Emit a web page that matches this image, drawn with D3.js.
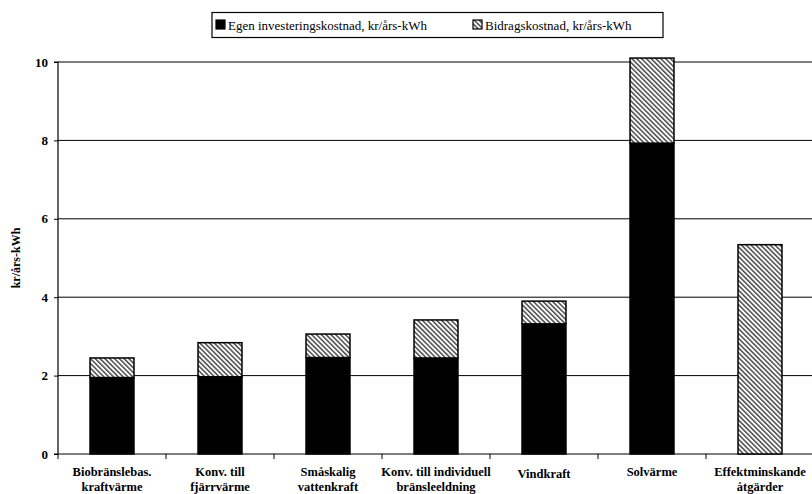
<!DOCTYPE html>
<html>
<head>
<meta charset="utf-8">
<script src="https://cdn.jsdelivr.net/npm/d3@7"></script>
<style>
  html, body { margin: 0; padding: 0; background: #fff; }
  svg { display: block; }
  svg text { font-family: "Liberation Serif", "DejaVu Serif", serif !important; }
</style>
</head>
<body>
<svg id="chart" width="812" height="494"></svg>
<script>
// Kostnad per årskilowattimme för olika åtgärder
const categories = [
  ["Biobränslebas.", "kraftvärme"],
  ["Konv. till", "fjärrvärme"],
  ["Småskalig", "vattenkraft"],
  ["Konv. till individuell", "bränsleeldning"],
  ["Vindkraft"],
  ["Solvärme"],
  ["Effektminskande", "åtgärder"]
];
const egenInvestering = [1.95, 1.97, 2.46, 2.45, 3.32, 7.93, 0];
const bidragskostnad  = [0.50, 0.87, 0.60, 0.97, 0.58, 2.17, 5.34];
const yTicks = [0, 2, 4, 6, 8, 10];
const seriesNames = ["Egen investeringskostnad, kr/års-kWh", "Bidragskostnad, kr/års-kWh"];
const yTitle = "kr/års-kWh";

const svg = d3.select("#chart");
const W = 812, H = 494;
const plotL = 58, plotR = 814, plotT = 62, plotB = 454;
const serif = "'Liberation Serif', 'DejaVu Serif', serif";

// Diagonal hatch for bidragskostnad
const defs = svg.append("defs");
const pat = defs.append("pattern")
  .attr("id", "hatch")
  .attr("patternUnits", "userSpaceOnUse")
  .attr("width", 3.4).attr("height", 3.4)
  .attr("patternTransform", "rotate(-45)");
pat.append("rect").attr("width", 3.4).attr("height", 3.4).attr("fill", "#ffffff");
pat.append("rect").attr("x", 0).attr("y", 0).attr("width", 1.5).attr("height", 3.4).attr("fill", "#4a4a4a");

const keys = categories.map((c, i) => i);
const x = d3.scaleBand().domain(keys).range([plotL, plotR]).paddingInner(0.593).paddingOuter(0.2965);
const y = d3.scaleLinear().domain([0, 10]).range([plotB, plotT]);

// Horizontal gridlines
svg.append("g").selectAll("line").data(yTicks.filter(t => t > 0)).join("line")
  .attr("x1", plotL).attr("x2", W)
  .attr("y1", d => y(d)).attr("y2", d => y(d))
  .attr("stroke", "#000").attr("stroke-width", 1);

// Y axis
const yAxis = d3.axisLeft(y).tickValues(yTicks).tickSize(4).tickPadding(6).tickFormat(d3.format("d"));
const gy = svg.append("g").attr("transform", `translate(${plotL},0)`).call(yAxis)
  .attr("font-family", serif);
gy.select(".domain").attr("stroke", "#000").attr("stroke-width", 1.2).attr("d", `M-4,${plotT}H0V${plotB}H-4`);
gy.selectAll(".tick line").attr("stroke", "#000");
gy.selectAll(".tick text").attr("font-size", 13).attr("font-weight", "bold")
  .style("font-family", serif).attr("fill", "#000");

// X axis with ticks between categories
const xBound = d3.scaleLinear().domain([0, categories.length]).range([plotL, plotR]);
svg.append("line").attr("x1", plotL).attr("x2", W).attr("y1", plotB).attr("y2", plotB)
  .attr("stroke", "#000").attr("stroke-width", 1.2);
svg.append("g").selectAll("line").data(d3.range(0, categories.length + 1)).join("line")
  .attr("x1", d => xBound(d)).attr("x2", d => xBound(d))
  .attr("y1", plotB).attr("y2", plotB + 5)
  .attr("stroke", "#000").attr("stroke-width", 1);

// Category labels
const lab = svg.append("g").selectAll("text").data(categories).join("text")
  .attr("text-anchor", "middle")
  .style("font-family", serif)
  .attr("font-size", 12.5).attr("font-weight", "bold").attr("fill", "#000")
  .attr("transform", (d, i) => `translate(${x(i) + x.bandwidth() / 2},${d.length === 1 && i === 4 ? 478 : 476})`);
lab.selectAll("tspan").data(d => d).join("tspan")
  .attr("x", 0).attr("dy", (d, j) => j === 0 ? 0 : 15).text(d => d);

// Stacked bars
const bars = svg.append("g");
bars.selectAll("rect.egen").data(egenInvestering).join("rect")
  .attr("class", "egen")
  .attr("x", (d, i) => x(i)).attr("width", x.bandwidth())
  .attr("y", d => y(d)).attr("height", d => y(0) - y(d))
  .attr("fill", "#000").attr("stroke", "#000").attr("stroke-width", 1.5)
  .attr("display", d => d > 0 ? null : "none");
bars.selectAll("rect.bidrag").data(bidragskostnad).join("rect")
  .attr("class", "bidrag")
  .attr("x", (d, i) => x(i)).attr("width", x.bandwidth())
  .attr("y", (d, i) => y(egenInvestering[i] + d))
  .attr("height", (d, i) => y(egenInvestering[i]) - y(egenInvestering[i] + d))
  .attr("fill", "url(#hatch)").attr("stroke", "#000").attr("stroke-width", 1.5);

// Y axis title
svg.append("text")
  .attr("transform", `translate(20,${(plotT + plotB) / 2}) rotate(-90)`)
  .attr("text-anchor", "middle")
  .style("font-family", serif)
  .attr("font-size", 12).attr("font-weight", "bold").attr("fill", "#000")
  .text(yTitle);

// Legend
const lg = svg.append("g");
lg.append("rect").attr("x", 212).attr("y", 12.5).attr("width", 451).attr("height", 25)
  .attr("fill", "#fff").attr("stroke", "#000").attr("stroke-width", 1.2);
const legendX = [216, 473];
const lgItems = lg.selectAll("g.item").data(seriesNames).join("g").attr("class", "item")
  .attr("transform", (d, i) => `translate(${legendX[i]},20)`);
lgItems.append("rect").attr("width", 9).attr("height", 9)
  .attr("fill", (d, i) => i === 0 ? "#000" : "url(#hatch)")
  .attr("stroke", "#000").attr("stroke-width", 1.2);
lgItems.append("text").attr("x", 12).attr("y", 9.5)
  .style("font-family", serif)
  .attr("font-size", 13).attr("fill", "#000").text(d => d);
</script>
</body>
</html>
